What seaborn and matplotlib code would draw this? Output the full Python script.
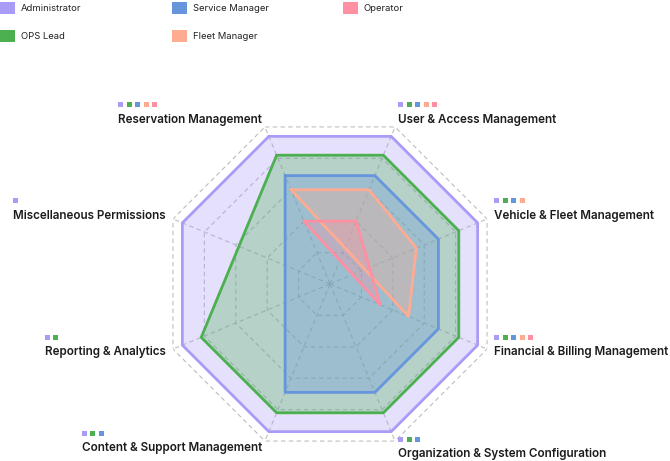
"""Radar chart of role permission coverage per category."""
import numpy as np
import matplotlib
matplotlib.use("Agg")
import matplotlib.pyplot as plt
from matplotlib.patches import Patch, Rectangle
import seaborn as sns

categories = [
    "Reservation Management",
    "User & Access Management",
    "Vehicle & Fleet Management",
    "Financial & Billing Management",
    "Organization & System Configuration",
    "Content & Support Management",
    "Reporting & Analytics",
    "Miscellaneous Permissions",
]
roles = ["Administrator", "OPS Lead", "Service Manager", "Fleet Manager", "Operator"]
administrator = [94, 94, 94, 94, 94, 94, 94, 94]
ops_lead = [82, 82, 82, 82, 82, 82, 82, None]
service_manager = [69, 69, 69, 69, 69, 69, None, None]
fleet_manager = [60, 60, 55, 50, None, None, None, None]
operator = [40, 40, None, 32, None, None, None, None]
role_colors = ["#a99cf7", "#4caf50", "#6595dc", "#ffab91", "#ff8fa3"]
grid_levels = [20, 40, 60, 80, 100]
legend_columns = [["Administrator", "OPS Lead"], ["Service Manager", "Fleet Manager"], ["Operator"]]

series = [administrator, ops_lead, service_manager, fleet_manager, operator]

sns.set_theme(style="white")
plt.rcParams["font.family"] = ["Inter", "DejaVu Sans"]

W, H = 670, 461
fig = plt.figure(figsize=(W / 100, H / 100), dpi=100)
cx, cy, R = 330, 284, 170
ax = fig.add_axes([(cx - R) / W, (H - cy - R) / H, 2 * R / W, 2 * R / H], projection="polar")
start = np.deg2rad(112.5)
ax.set_theta_offset(start)
ax.set_theta_direction(-1)

n = len(categories)
theta = np.arange(n) * 2 * np.pi / n
ring_theta = np.append(theta, theta[0])

# octagon grid + spokes
grid_kw = dict(ls=(0, (4, 3)), color="#bdbdbd", lw=0.8, zorder=1)
for lvl in grid_levels:
    ax.plot(ring_theta, [lvl] * (n + 1), **grid_kw)
for t in theta:
    ax.plot([t, t], [0, grid_levels[-1]], **grid_kw)

# role polygons, missing categories are skipped
for role, values, color in zip(roles, series, role_colors):
    r = np.array([np.nan if v is None else v for v in values], dtype=float)
    mask = ~np.isnan(r)
    t = np.append(theta[mask], theta[mask][0])
    v = np.append(r[mask], r[mask][0])
    ax.fill(t, v, color=color, alpha=0.3, lw=0, zorder=2)
    sns.lineplot(x=t, y=v, sort=False, estimator=None, color=color, lw=2.0,
                 solid_joinstyle="round", ax=ax, zorder=3)

ax.set(xlabel="", ylabel="")
ax.set_ylim(0, grid_levels[-1])
ax.set_xticks([])
ax.set_yticks([])
ax.grid(False)
ax.spines["polar"].set_visible(False)
ax.patch.set_alpha(0)

# category labels
labels = []
for t, cat in zip(theta, categories):
    a = start - t
    ha = "left" if np.cos(a) > 0 else "right"
    dy = 8 * np.sin(a) if np.sin(a) > -0.9 or np.cos(a) < 0 else -13
    txt = ax.annotate(cat, xy=(t, grid_levels[-1]),
                      xytext=(8 * np.cos(a), dy), textcoords="offset pixels",
                      ha=ha, va="center", fontsize=8.4, fontweight="semibold",
                      color="#1c1c1c", annotation_clip=False)
    labels.append(txt)

# legend, three columns
col_x = [0, 172, 343]
for x, names in zip(col_x, legend_columns):
    handles = [Patch(facecolor=role_colors[roles.index(nm)], edgecolor="none", label=nm)
               for nm in names]
    fig.legend(handles=handles, loc="upper left", bbox_to_anchor=(x / W, 1 - 2 / H),
               frameon=False, fontsize=6.8, handlelength=1.6, handleheight=1.6,
               handletextpad=0.6, labelspacing=1.7, borderpad=0, borderaxespad=0,
               labelcolor="#222222")

# little role markers above each category label
fig.canvas.draw()
renderer = fig.canvas.get_renderer()
for k, txt in enumerate(labels):
    bb = txt.get_window_extent(renderer)
    yc = (bb.y0 + bb.y1) / 2 + 15
    j = 0
    for values, color in zip(series, role_colors):
        if values[k] is None:
            continue
        fig.add_artist(Rectangle(((bb.x0 + j * 8.5) / W, (yc - 2.5) / H), 5 / W, 5 / H,
                                 transform=fig.transFigure, facecolor=color, lw=0))
        j += 1

fig.savefig("out.png", dpi=100)
